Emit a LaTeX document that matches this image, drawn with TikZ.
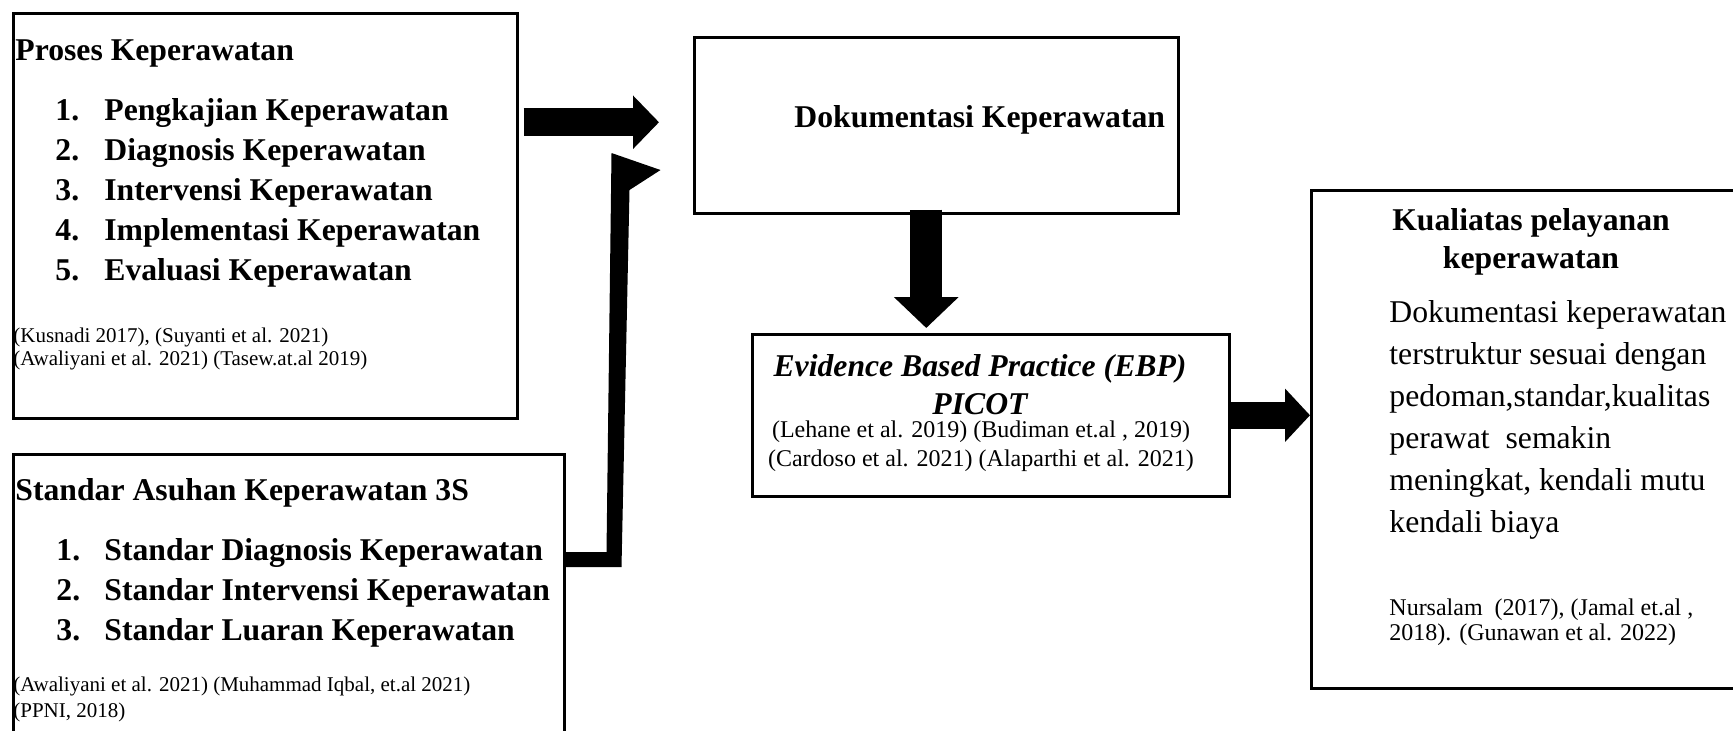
\documentclass[tikz,border=0pt]{standalone}
\usepackage{fontspec}
\setmainfont{Liberation Serif}
\usetikzlibrary{arrows.meta,calc}

\begin{document}
\begin{tikzpicture}[x=0.5pt,y=-0.5pt,
    box/.style={draw, line width=1.25pt, anchor=north west, inner sep=0pt},
    head/.style={anchor=base west, inner sep=0pt, font=\fontsize{15.85pt}{19pt}\selectfont\bfseries},
    body/.style={anchor=base west, inner sep=0pt, font=\fontsize{15.85pt}{19pt}\selectfont},
    cite/.style={anchor=base west, inner sep=0pt, font=\fontsize{10.5pt}{12pt}\selectfont},
    citebig/.style={anchor=base west, inner sep=0pt, font=\fontsize{12pt}{14pt}\selectfont}]
  \useasboundingbox (0,0) rectangle (1733,730);

  % boxes
  \node[box, minimum width=252pt, minimum height=202.5pt] (proses) at (12,12) {};
  \node[box, minimum width=275.5pt, minimum height=143.5pt] (std) at (12,453) {};
  \node[box, minimum width=242pt, minimum height=88pt] (dok) at (693,36) {};
  \node[box, minimum width=238.5pt, minimum height=81pt] (ebp) at (751,333) {};
  \node[box, minimum width=213pt, minimum height=249pt] (kual) at (1310,189) {};

  % proses keperawatan
  \node[head] (prosesT) at (15,60) {Proses Keperawatan};
  \foreach \t [count=\i] in {Pengkajian Keperawatan, Diagnosis Keperawatan,
      Intervensi Keperawatan, Implementasi Keperawatan, Evaluasi Keperawatan} {
    \node[head] (pn\i) at (55,80+40*\i) {\i.};
    \node[head] (pt\i) at (104,80+40*\i) {\t};
  }
  \node[cite] (prosesC1) at (13,342) {(Kusnadi 2017), (Suyanti et al. 2021)};
  \node[cite] (prosesC2) at (13,365) {(Awaliyani et al. 2021) (Tasew.at.al 2019)};

  % standar asuhan
  \node[head] (stdT) at (15,500) {Standar Asuhan Keperawatan 3S};
  \foreach \t [count=\i] in {Standar Diagnosis Keperawatan,
      Standar Intervensi Keperawatan, Standar Luaran Keperawatan} {
    \node[head] (sn\i) at (56,520+40*\i) {\i.};
    \node[head] (st\i) at (104,520+40*\i) {\t};
  }
  \node[cite] (stdC1) at (13,691) {(Awaliyani et al. 2021) (Muhammad Iqbal, et.al 2021)};
  \node[cite] (stdC2) at (13,717) {(PPNI, 2018)};

  % dokumentasi
  \node[head] (dokT) at (794,127) {Dokumentasi Keperawatan};

  % ebp
  \node[head, anchor=base] (ebpT1) at (980,376) {\itshape Evidence Based Practice (EBP)};
  \node[head, anchor=base] (ebpT2) at (980,414) {\itshape PICOT};
  \node[citebig, anchor=base] (ebpC1) at (981,437) {(Lehane et al. 2019) (Budiman et.al , 2019)};
  \node[citebig, anchor=base] (ebpC2) at (981,466) {(Cardoso et al. 2021) (Alaparthi et al. 2021)};

  % kualitas
  \node[head, anchor=base] (kualT1) at (1531,230) {Kualiatas pelayanan};
  \node[head, anchor=base] (kualT2) at (1531,268) {keperawatan};
  \foreach \t [count=\i] in {Dokumentasi keperawatan, terstruktur sesuai dengan,
      {pedoman,standar,kualitas}, perawat\ \ semakin, {meningkat, kendali mutu}, kendali biaya} {
    \node[body] (kb\i) at (1389,280+42*\i) {\t};
  }
  \node[citebig] (kualC1) at (1389,615) {Nursalam\ \ (2017), (Jamal et.al ,};
  \node[citebig] (kualC2) at (1389,640) {2018). (Gunawan et al. 2022)};

  % arrows
  \draw[line width=14pt, -{Triangle[length=13pt,width=26pt]}]
    ($(proses.east |- dok.west)+(5,-3)$) -- ($(dok.west)+(-34,-3)$);
  \fill ($(std.north east)+(0,99)$) -- ($(std.north east)+(41,99)$)
    -- ($(std.north east)+(46,-300)$) -- ($(std.north east)+(95,-283)$)
    -- ($(std.north east)+(64,-263)$) -- ($(std.north east)+(56,114)$)
    -- ($(std.north east)+(0,114)$) -- cycle;
  \draw[line width=16pt, -{Triangle[length=15.5pt,width=31.5pt]}]
    ($(dok.south)+(-10,-5)$) -- ($(dok.south |- ebp.north)+(-10,-5)$);
  \draw[line width=13.5pt, -{Triangle[length=12.5pt,width=26pt]}]
    (ebp.east) -- (kual.west |- ebp.east);
\end{tikzpicture}
\end{document}
